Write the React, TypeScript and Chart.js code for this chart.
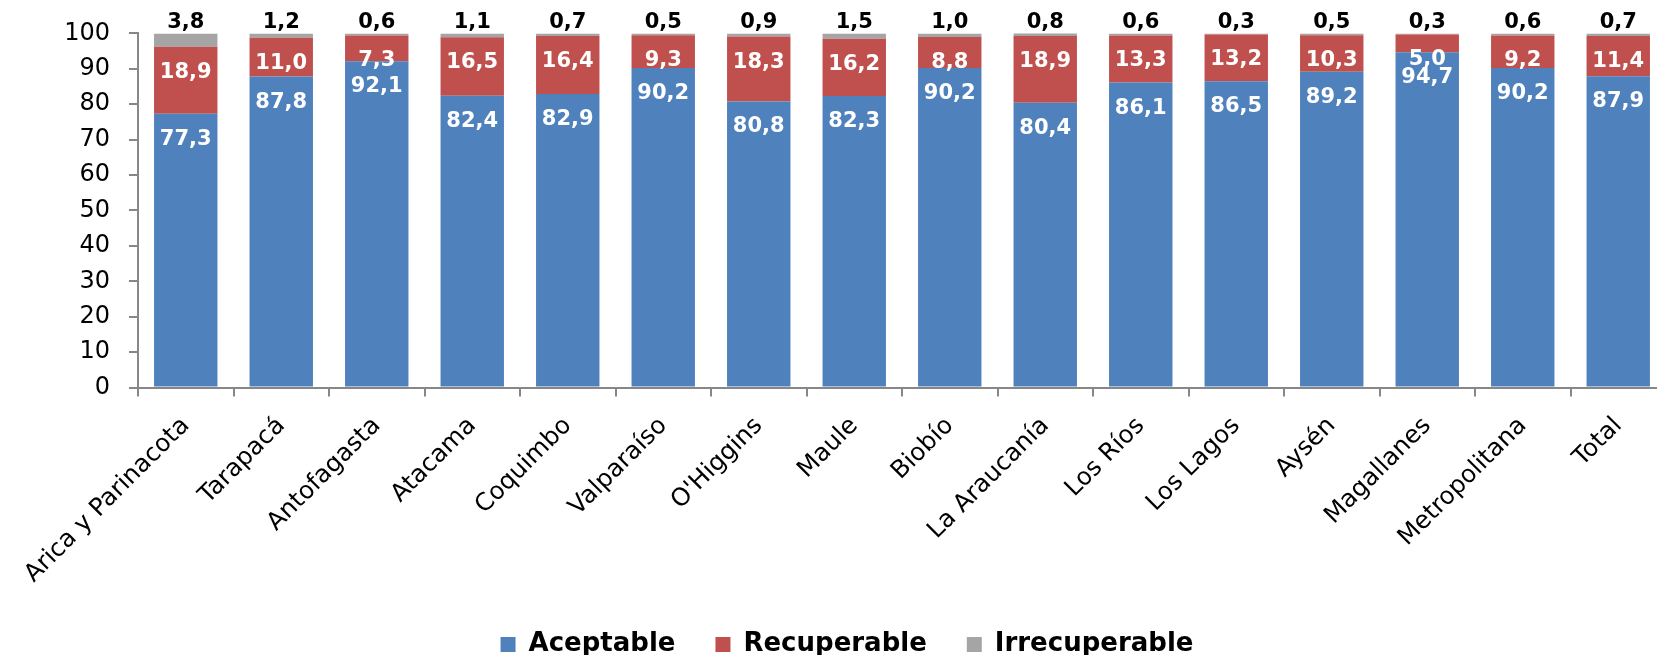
import React, { useEffect, useRef } from "react";
import { Chart, registerables } from "chart.js";

Chart.register(...registerables);

const categories = [
  "Arica y Parinacota", "Tarapacá", "Antofagasta", "Atacama", "Coquimbo",
  "Valparaíso", "O'Higgins", "Maule", "Biobío", "La Araucanía",
  "Los Ríos", "Los Lagos", "Aysén", "Magallanes", "Metropolitana", "Total",
];
const aceptable = [77.3, 87.8, 92.1, 82.4, 82.9, 90.2, 80.8, 82.3, 90.2, 80.4, 86.1, 86.5, 89.2, 94.7, 90.2, 87.9];
const recuperable = [18.9, 11.0, 7.3, 16.5, 16.4, 9.3, 18.3, 16.2, 8.8, 18.9, 13.3, 13.2, 10.3, 5.0, 9.2, 11.4];
const irrecuperable = [3.8, 1.2, 0.6, 1.1, 0.7, 0.5, 0.9, 1.5, 1.0, 0.8, 0.6, 0.3, 0.5, 0.3, 0.6, 0.7];
const seriesNames = ["Aceptable", "Recuperable", "Irrecuperable"];
const seriesColors = ["#4F81BD", "#C0504D", "#A5A5A5"];
const yTicks = [0, 10, 20, 30, 40, 50, 60, 70, 80, 90, 100];

const FONT = "'DejaVu Sans', Verdana, sans-serif";
const AXIS = "#878787";

const segLabels = {
  id: "segLabels",
  afterDatasetsDraw(chart: any) {
    const ctx = chart.ctx;
    ctx.save();
    ctx.font = `bold 21px ${FONT}`;
    ctx.textAlign = "center";
    ctx.textBaseline = "middle";
    chart.data.datasets.forEach((ds: any, di: number) => {
      const meta = chart.getDatasetMeta(di);
      meta.data.forEach((bar: any, i: number) => {
        const v = ds.data[i];
        const { x, y } = bar.getProps(["x", "y"], true);
        const txt = v.toFixed(1).replace(".", ",");
        if (di < 2) {
          ctx.fillStyle = "#FFFFFF";
          ctx.fillText(txt, x, y + 25.5);
        } else {
          ctx.fillStyle = "#000000";
          ctx.fillText(txt, x, chart.scales.y.getPixelForValue(100) - 11);
        }
      });
    });
    ctx.restore();
  },
};

export default function App() {
  const ref = useRef<HTMLCanvasElement | null>(null);
  useEffect(() => {
    if (!ref.current) return;
    const series = [aceptable, recuperable, irrecuperable];
    const chart = new Chart(ref.current, {
      type: "bar",
      data: {
        labels: categories,
        datasets: series.map((d, i) => ({
          label: seriesNames[i],
          data: d,
          backgroundColor: seriesColors[i],
          borderWidth: 0,
          barPercentage: 0.664,
          categoryPercentage: 1,
        })),
      },
      options: {
        responsive: false,
        animation: false,
        devicePixelRatio: 1,
        layout: { padding: { left: 28, right: 14, top: 33, bottom: 12.5 } },
        plugins: {
          tooltip: { enabled: false },
          legend: {
            position: "bottom",
            labels: {
              boxWidth: 15,
              boxHeight: 15,
              padding: 40,
              color: "#000",
              font: { family: FONT, size: 26, weight: "bold" },
            },
          },
        },
        scales: {
          x: {
            stacked: true,
            afterFit: (s: any) => { s.height = 204; },
            grid: {
              display: true,
              drawOnChartArea: false,
              drawTicks: true,
              tickLength: 9,
              color: AXIS,
              lineWidth: 2,
              offset: true,
            },
            border: { display: true, color: AXIS, width: 2 },
            ticks: {
              color: "#000",
              font: { family: FONT, size: 24.5 },
              minRotation: 45,
              maxRotation: 45,
              autoSkip: false,
              padding: 15,
            },
          },
          y: {
            stacked: true,
            min: 0,
            max: 100,
            afterFit: (s: any) => { s.width = 110; },
            afterBuildTicks: (s: any) => { s.ticks = yTicks.map((v) => ({ value: v })); },
            grid: {
              display: true,
              drawOnChartArea: false,
              drawTicks: true,
              tickLength: 9,
              color: AXIS,
              lineWidth: 2,
            },
            border: { display: true, color: AXIS, width: 2 },
            ticks: {
              color: "#000",
              font: { family: FONT, size: 24 },
              padding: 19,
            },
          },
        },
      },
      plugins: [segLabels],
    });
    return () => chart.destroy();
  }, []);
  return (
    <div style={{ position: "absolute", left: 0, top: 0, width: 1657, height: 655, overflow: "hidden", background: "#fff" }}>
      <canvas ref={ref} width={1680} height={680} style={{ width: 1680, height: 680, display: "block" }} />
    </div>
  );
}
